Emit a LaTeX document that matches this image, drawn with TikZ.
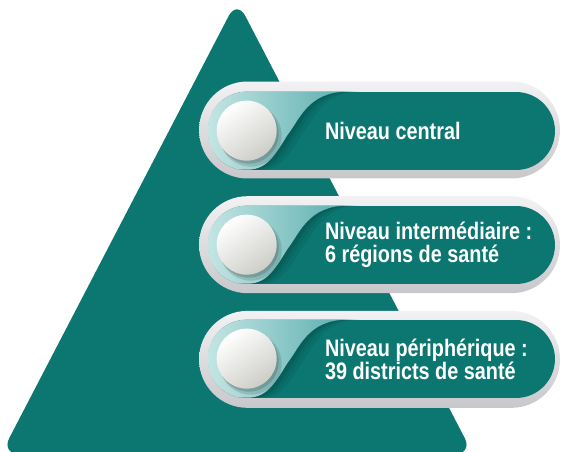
\documentclass[tikz,border=0pt]{standalone}
\usepackage{fontspec}
\newfontfamily\lvlfont[FakeStretch=0.83]{Liberation Sans}
\usetikzlibrary{positioning,shapes.misc}
\definecolor{pyrteal}{HTML}{0C7670}
\definecolor{aqualight}{HTML}{C4E5E3}
\definecolor{aquamid}{HTML}{5AAEAF}
\definecolor{shadeteal}{HTML}{054C48}
\definecolor{ringtop}{HTML}{F2F2F4}
\definecolor{ringgray}{HTML}{C8C8CC}
\definecolor{knobgray}{HTML}{CDCDC8}

\begin{document}
\begin{tikzpicture}[
    x=0.02cm, y=-0.02cm,
    ring/.style={
        rounded rectangle, inner sep=0pt,
        minimum width=7.22cm, minimum height=1.94cm,
        top color=ringtop, bottom color=ringgray
    },
    lvl/.style={
        rounded rectangle, inner sep=0pt, fill=pyrteal,
        minimum width=6.94cm, minimum height=1.56cm
    },
    lvltext/.style={
        font=\lvlfont\bfseries\fontsize{13.6}{13}\selectfont,
        text=white, align=left, anchor=west, inner sep=0pt
    },
]
\useasboundingbox (0,0) rectangle (561,452);

% Pyramid
\fill[pyrteal, rounded corners=0.36cm] (237,0) -- (473,454) -- (1,454) -- cycle;

% Pills
\node[ring] (ringCentral) at (379.5,130) {};
\node[lvl] (lvlCentral) at (381.5,131) {};
\node[ring, below=0.34cm of ringCentral] (ringInter) {};
\node[lvl] (lvlInter) at (381.5,245) {};
\node[ring, below=0.34cm of ringInter] (ringPeri) {};
\node[lvl] (lvlPeri) at (381.5,359) {};

% Light part and knob of each pill
\foreach \lv in {lvlCentral,lvlInter,lvlPeri}{
    \begin{scope}
        \clip[rounded corners=0.78cm] (\lv.west |- \lv.north) rectangle (\lv.east |- \lv.south);
        \begin{scope}[shift={(\lv.west |- \lv.north)}]
            % soft shadow along the curve
            \foreach \dx/\op in {14/0.15, 9/0.2, 5/0.3}{
                \fill[shadeteal, opacity=\op, xshift=\dx*0.02cm] (0,0) -- (140,0)
                    .. controls (100,0) and (92,28) .. (80,43)
                    .. controls (68,62) and (60,78) .. (40,78) -- (0,78) -- cycle;
            }
            % light part
            \shade[left color=aqualight, right color=aquamid] (0,0) -- (140,0)
                .. controls (100,0) and (92,28) .. (80,43)
                .. controls (68,62) and (60,78) .. (40,78) -- (0,78) -- cycle;
            % knob
            \fill[black, opacity=0.12] (43,44) circle[radius=0.62cm];
            \fill[black, opacity=0.15] (41,42) circle[radius=0.6cm];
            \shade[top color=white, bottom color=knobgray, shading angle=35]
                (39,39) circle[radius=0.6cm];
        \end{scope}
    \end{scope}
}

% Texts
\node[lvltext, right=2.34cm of lvlCentral.west] (txtCentral) {Niveau central};
\node[lvltext, right=2.34cm of lvlInter.west] (txtInter)
    {Niveau intermédiaire :\\6 régions de santé};
\node[lvltext, right=2.34cm of lvlPeri.west] (txtPeri)
    {Niveau périphérique :\\39 districts de santé};

\end{tikzpicture}
\end{document}
